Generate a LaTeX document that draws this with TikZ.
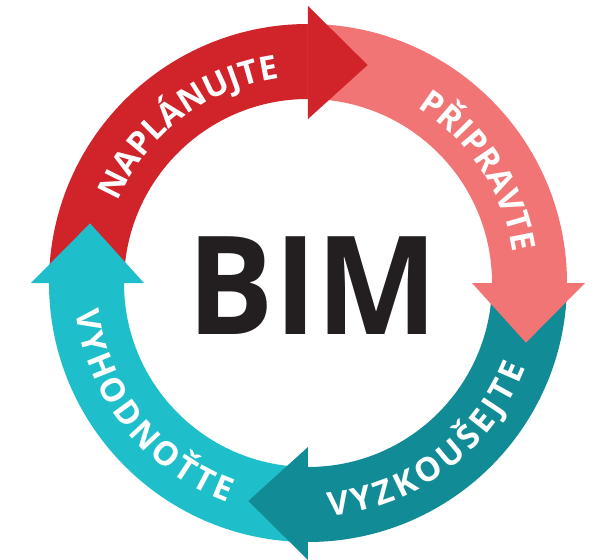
\documentclass[tikz,border=0pt]{standalone}
\usepackage{fontspec}
\setmainfont{Open Sans}
\usetikzlibrary{decorations.text}
\definecolor{planred}{HTML}{D1232A}
\definecolor{preppink}{HTML}{F27575}
\definecolor{testteal}{HTML}{118B96}
\definecolor{evalcyan}{HTML}{1EBFCB}
\definecolor{bimblack}{HTML}{231F20}
\newcommand\arcfont{\fontsize{33}{33}\selectfont\bfseries}
\begin{document}
\begin{tikzpicture}
\tikzstyle{word} = [decorate, decoration={text along path, text align=fit to path, text color=white}];
\tikzstyle{bimlabel} = [font=\fontsize{137}{137}\selectfont\bfseries, text=bimblack, inner sep=0pt, xscale=0.94];
\useasboundingbox (-308pt,-277pt) rectangle (287pt,283pt);
% bands
\fill[planred] (180:259pt) arc[start angle=180,end angle=90,radius=259pt] -- (90:184pt) arc[start angle=90,end angle=180,radius=184pt] -- cycle;
\fill[preppink] (90:259pt) arc[start angle=90,end angle=0,radius=259pt] -- (0:184pt) arc[start angle=0,end angle=90,radius=184pt] -- cycle;
\fill[testteal] (0:259pt) arc[start angle=0,end angle=-90,radius=259pt] -- (-90:184pt) arc[start angle=-90,end angle=0,radius=184pt] -- cycle;
\fill[evalcyan] (-90:259pt) arc[start angle=-90,end angle=-180,radius=259pt] -- (-180:184pt) arc[start angle=-180,end angle=-90,radius=184pt] -- cycle;
% arrow heads
\fill[planred] (90:277pt) -- (74.7:226pt) -- (90:164pt) -- cycle;
\fill[preppink] (0:277pt) -- (-15.3:226pt) -- (0:164pt) -- cycle;
\fill[testteal] (-90:277pt) -- (-105.3:226pt) -- (-90:164pt) -- cycle;
\fill[evalcyan] (180:277pt) -- (164.7:226pt) -- (180:164pt) -- cycle;
% labels
\path[word, decoration={text={|\arcfont|NAPLÁNUJTE}}] (157:207pt) arc[start angle=157,end angle=98,radius=207pt];
\path[word, decoration={text={|\arcfont|PŘIPRAVTE}}] (58:207pt) arc[start angle=58,end angle=8.5,radius=207pt];
\path[word, decoration={text={|\arcfont|VYZKOUŠEJTE}}] (-84.7:234pt) arc[start angle=-84.7,end angle=-21.2,radius=234pt];
\path[word, decoration={text={|\arcfont|VYHODNOŤTE}}] (186.9:234pt) arc[start angle=186.9,end angle=249.9,radius=234pt];
\node[bimlabel] (bim) at (5pt,-3pt) {BIM};
\end{tikzpicture}
\end{document}
